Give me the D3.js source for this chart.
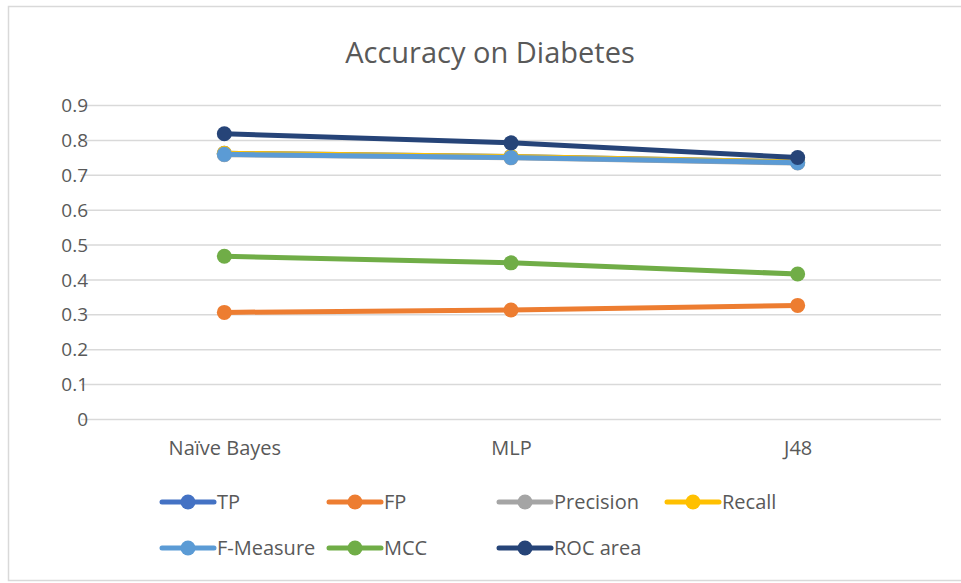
<!DOCTYPE html>
<html lang="en">
<head>
    <meta charset="utf-8">
    <title>Accuracy on Diabetes</title>
    <script src="https://d3js.org/d3.v7.min.js"></script>
    <style>
        body { margin: 0; background: #fff; }
        text { font-family: "Open Sans", Lato, sans-serif; fill: #595959; }
    </style>
</head>
<body>
<script type="text/javascript">

    //Data
    const classifiers = ["Naïve Bayes", "MLP", "J48"];
    const seriesNames = ["TP", "FP", "Precision", "Recall", "F-Measure", "MCC", "ROC area"];
    const tp = [0.763, 0.754, 0.738];
    const fp = [0.307, 0.314, 0.327];
    const precision = [0.759, 0.750, 0.735];
    const recall = [0.763, 0.754, 0.738];
    const fMeasure = [0.760, 0.751, 0.736];
    const mcc = [0.468, 0.449, 0.417];
    const rocArea = [0.819, 0.793, 0.751];
    const yTicks = [0, 0.1, 0.2, 0.3, 0.4, 0.5, 0.6, 0.7, 0.8, 0.9];

    const seriesColors = ["#4472C4", "#ED7D31", "#A5A5A5", "#FFC000", "#5B9BD5", "#70AD47", "#264478"];
    const seriesValues = [tp, fp, precision, recall, fMeasure, mcc, rocArea];

    const w = 961;
    const h = 583;

    const svg = d3.select("body")
        .append("svg")
        .attr("width", w)
        .attr("height", h);

    //chart border
    svg.append("rect")
        .attr("x", 8.5)
        .attr("y", 6.5)
        .attr("width", 960)
        .attr("height", 574)
        .attr("fill", "none")
        .attr("stroke", "#d9d9d9")
        .attr("stroke-width", 1.5);

    //title
    svg.append("text")
        .attr("x", 490)
        .attr("y", 63)
        .attr("text-anchor", "middle")
        .style("font-size", "29px")
        .text("Accuracy on Diabetes");

    //scales
    const x = d3.scalePoint()
        .domain(classifiers)
        .range([81, 941])
        .padding(0.5);

    const y = d3.scaleLinear()
        .domain([0, 0.9])
        .range([419.5, 105.5]);

    //gridlines
    svg.append("g")
        .selectAll("line")
        .data(yTicks)
        .enter()
        .append("line")
        .attr("x1", 81)
        .attr("x2", 941)
        .attr("y1", d => y(d))
        .attr("y2", d => y(d))
        .attr("stroke", "#d9d9d9")
        .attr("stroke-width", 1.5);

    //y axis
    const yAxis = svg.append("g")
        .attr("transform", "translate(88,0)")
        .call(d3.axisLeft(y).tickValues(yTicks).tickSize(0).tickFormat(d => d === 0 ? "0" : d3.format(".1f")(d)));
    yAxis.select(".domain").remove();
    yAxis.selectAll("text")
        .attr("x", 0)
        .style("font-size", "19px")
        .style("font-family", "\"Open Sans\", Lato, sans-serif")
        .attr("fill", "#595959");

    //x axis
    const xAxis = svg.append("g")
        .attr("transform", "translate(0,438)")
        .call(d3.axisBottom(x).tickSize(0));
    xAxis.select(".domain").remove();
    xAxis.selectAll("text")
        .style("font-size", "20px")
        .style("font-family", "\"Open Sans\", Lato, sans-serif")
        .attr("fill", "#595959");

    //lines
    const line = d3.line()
        .x((d, i) => x(classifiers[i]))
        .y(d => y(d));

    const groups = svg.selectAll("g.series")
        .data(seriesValues)
        .enter()
        .append("g")
        .attr("class", "series");

    groups.append("path")
        .attr("d", d => line(d))
        .attr("fill", "none")
        .attr("stroke", (d, i) => seriesColors[i])
        .attr("stroke-width", 5)
        .attr("stroke-linecap", "round");

    groups.selectAll("circle")
        .data((d, i) => d.map((v, j) => ({ v: v, j: j, c: seriesColors[i] })))
        .enter()
        .append("circle")
        .attr("cx", d => x(classifiers[d.j]))
        .attr("cy", d => y(d.v))
        .attr("r", 7.5)
        .attr("fill", d => d.c);

    //legend
    const legendCols = [160, 327, 497, 665];
    const legendRows = [502, 548];

    const legend = svg.selectAll("g.legend")
        .data(seriesNames)
        .enter()
        .append("g")
        .attr("class", "legend")
        .attr("transform", (d, i) => "translate(" + legendCols[i % 4] + "," + legendRows[Math.floor(i / 4)] + ")");

    legend.append("line")
        .attr("x1", 2)
        .attr("x2", 54)
        .attr("stroke", (d, i) => seriesColors[i])
        .attr("stroke-width", 5)
        .attr("stroke-linecap", "round");

    legend.append("circle")
        .attr("cx", 28)
        .attr("r", 7.5)
        .attr("fill", (d, i) => seriesColors[i]);

    legend.append("text")
        .attr("x", 57)
        .attr("y", 7)
        .style("font-size", "20px")
        .text(d => d);

</script>
</body>
</html>
